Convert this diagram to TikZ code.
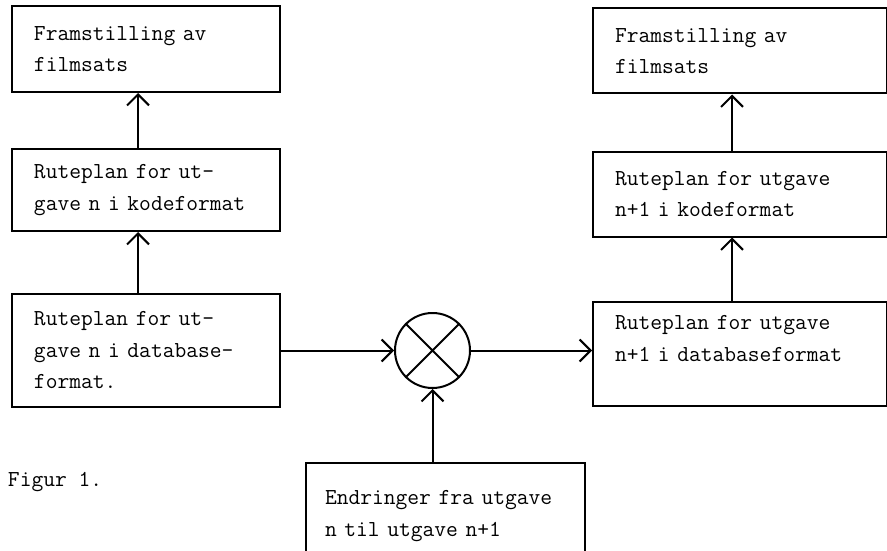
\documentclass[tikz,border=0pt]{standalone}
\usepackage{fontspec}
\usetikzlibrary{positioning,arrows.meta}

\begin{document}
\begin{tikzpicture}[x=1pt, y=1pt, line width=2pt, every node/.style={font=\ttfamily\fontsize{22.86}{31.5}\selectfont}, box/.style={draw, align=left, inner xsep=22pt, inner ysep=8pt}, >={Straight Barb[length=11pt,width=22pt]}]
\useasboundingbox (0,0) rectangle (887,-551);
\node[box, text width=224pt, minimum height=113pt] (ruteA) at (146,-350.5) {Ruteplan for ut-\\gave n i database-\\format.};
\node[box, text width=224pt, minimum height=82pt, above=61pt of ruteA] (kodeA) {Ruteplan for ut-\\gave n i kodeformat};
\node[box, text width=224pt, minimum height=86pt, above=55pt of kodeA] (filmA) {Framstilling av\\filmsats};
\node[draw, circle, minimum size=75pt, inner sep=0pt, right=113pt of ruteA] (mix) {};
\node[box, text width=250pt, minimum height=104pt, text depth=62pt, right=121pt of mix, yshift=-3pt] (ruteB) {Ruteplan for utgave\\n+1 i databaseformat};
\node[box, text width=250pt, minimum height=85pt, above=63pt of ruteB] (kodeB) {Ruteplan for utgave\\n+1 i kodeformat};
\node[box, text width=250pt, minimum height=85pt, above=56pt of kodeB] (filmB) {Framstilling av\\filmsats};
\node[box, inner xsep=19pt, text width=241pt, minimum height=106pt, below=73pt of mix, xshift=13pt] (endr) {Endringer fra utgave\\n til utgave n+1};
\node[anchor=west, inner sep=0pt] (figur) at (7,-482) {Figur 1.};
\draw (mix.north west) -- (mix.south east) (mix.north east) -- (mix.south west);
\draw[->] ([xshift=-8pt]kodeA.north) -- ([xshift=-8pt]filmA.south);
\draw[->] ([xshift=-8pt]ruteA.north) -- ([xshift=-8pt]kodeA.south);
\draw[->] (ruteA.east) -- (mix.west);
\draw[->] (mix.east) -- (mix.east -| ruteB.west);
\draw[->] ([xshift=-8pt]ruteB.north) -- ([xshift=-8pt]kodeB.south);
\draw[->] ([xshift=-8pt]kodeB.north) -- ([xshift=-8pt]filmB.south);
\draw[->] (endr.north -| mix.south) -- (mix.south);
\end{tikzpicture}
\end{document}
